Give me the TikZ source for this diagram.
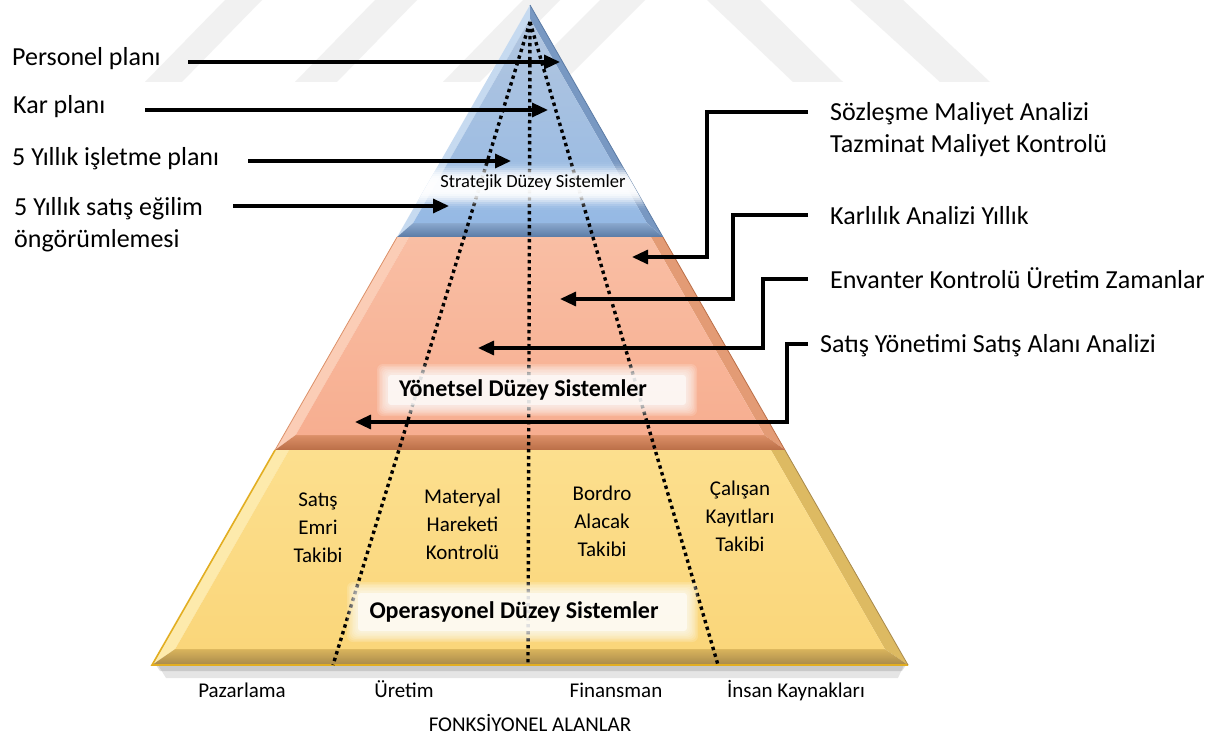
\documentclass[tikz,border=0pt]{standalone}
\usepackage{fontspec}
\setmainfont{Carlito}
\usetikzlibrary{arrows.meta}

% palette
\definecolor{wmark}{HTML}{F1F1F1}
\definecolor{bFaceT}{HTML}{B2C6DF}
\definecolor{bFaceB}{HTML}{95B9E4}
\definecolor{bLeft}{HTML}{C6DAF0}
\definecolor{bRight}{HTML}{7898C2}
\definecolor{bBevT}{HTML}{8AA8CE}
\definecolor{bBevB}{HTML}{5B7BA5}
\definecolor{oFaceT}{HTML}{F9BEA4}
\definecolor{oFaceB}{HTML}{F7AE90}
\definecolor{oLeft}{HTML}{FBCDB6}
\definecolor{oRight}{HTML}{E39B75}
\definecolor{oBevT}{HTML}{DC9068}
\definecolor{oBevB}{HTML}{BA6E47}
\definecolor{yFaceT}{HTML}{FCDF8E}
\definecolor{yFaceB}{HTML}{FAD67A}
\definecolor{yLeft}{HTML}{FDEAAC}
\definecolor{yRight}{HTML}{DDBA62}
\definecolor{yBevT}{HTML}{D9B45C}
\definecolor{yBevB}{HTML}{A8894B}
\definecolor{yEdge}{HTML}{E2AE22}

\tikzset{
  lbl/.style={font=\fontsize{26}{32}\selectfont, inner sep=0pt, align=left},
  lvlname/.style={font=\bfseries\fontsize{24}{28}\selectfont, inner sep=0pt},
  toplvl/.style={font=\fontsize{18.5}{22}\selectfont, inner sep=0pt},
  cell/.style={font=\fontsize{21}{28}\selectfont, inner sep=0pt, align=center},
  area/.style={font=\fontsize{21}{25}\selectfont, inner sep=0pt},
  callout/.style={line width=3.2pt, -{Triangle[length=16pt,width=14pt]}},
  divider/.style={line width=3.4pt, dash pattern=on 3.4pt off 3.6pt},
  stripe/.style={fill=wmark, draw=none},
  glow/.style={fill=white, opacity=0.16, rounded corners=6pt},
}

\begin{document}
\begin{tikzpicture}[x=1pt,y=-1pt]
\useasboundingbox (0,0) rectangle (1230,738);
\fill[white] (0,0) rectangle (1230,738);

% faint watermark stripes along the top
\fill[stripe] (145,82) -- (182,82) -- (262,0) -- (225,0) -- cycle;
\fill[stripe] (295,82) -- (337,82) -- (417,0) -- (375,0) -- cycle;
\fill[stripe] (443,82) -- (480,82) -- (560,0) -- (523,0) -- cycle;
\fill[stripe] (518,82) -- (563,82) -- (645,0) -- (600,0) -- cycle;
\fill[stripe] (707,0) -- (760,0) -- (843,82) -- (793,82) -- cycle;
\fill[stripe] (850,0) -- (903,0) -- (990,82) -- (940,82) -- cycle;

% shadow under the base
\fill[black,opacity=0.10] (158,665) -- (904,665) -- (898,678) -- (166,678) -- cycle;
\fill[black,opacity=0.12] (156,665) -- (906,665) -- (902,671) -- (160,671) -- cycle;

% ---- top layer: strategic (blue)
\fill[bLeft]  (530,5) -- (530,19) -- (413.2,223) -- (397.1,237) -- cycle;
\fill[bRight] (530,5) -- (530,19) -- (646.8,223) -- (662.9,237) -- cycle;
\shade[top color=bBevT,bottom color=bBevB] (397.1,237) -- (413.2,223) -- (646.8,223) -- (662.9,237) -- cycle;
\shade[top color=bFaceT,bottom color=bFaceB] (530,19) -- (646.8,223) -- (413.2,223) -- cycle;
\draw[bBevB,line width=0.8pt] (530,5) -- (662.9,237);

% ---- middle layer: managerial (orange)
\fill[oLeft]  (397.1,237) -- (409.1,237) -- (295.7,435) -- (275.1,450) -- cycle;
\fill[oRight] (662.9,237) -- (650.9,237) -- (764.3,435) -- (784.9,450) -- cycle;
\shade[top color=oBevT,bottom color=oBevB] (275.1,450) -- (295.7,435) -- (764.3,435) -- (784.9,450) -- cycle;
\shade[top color=oFaceT,bottom color=oFaceB] (409.1,237) -- (650.9,237) -- (764.3,435) -- (295.7,435) -- cycle;
\draw[oBevT,line width=0.8pt] (397.1,237) -- (275.1,450);
\draw[oBevB,line width=0.8pt] (662.9,237) -- (784.9,450);

% ---- bottom layer: operational (yellow)
\fill[yLeft]  (275.1,450) -- (289.1,450) -- (175.2,649) -- (152,665) -- cycle;
\fill[yRight] (784.9,450) -- (770.9,450) -- (884.8,649) -- (908,665) -- cycle;
\shade[top color=yBevT,bottom color=yBevB] (152,665) -- (175.2,649) -- (884.8,649) -- (908,665) -- cycle;
\shade[top color=yFaceT,bottom color=yFaceB] (289.1,450) -- (770.9,450) -- (884.8,649) -- (175.2,649) -- cycle;
\draw[yEdge,line width=1.6pt] (275.1,450) -- (152,665) -- (908,665);
\draw[yBevB,line width=0.8pt] (784.9,450) -- (908,665);

% functional area dividers
\coordinate (top) at (530,22);
\coordinate (d1) at (333,665);
\coordinate (d2) at (528,665);
\coordinate (d3) at (718,665);
\draw[divider] (top) -- (d1);
\draw[divider] (top) -- (d2);
\draw[divider] (top) -- (d3);

% soft white band across the top layer, built from thin strips
\begin{scope}
  \clip (530,5) -- (662.9,237) -- (397.1,237) -- cycle;
  \foreach \yy in {156,158,...,214} {
    \pgfmathsetmacro\op{0.97*exp(-((\yy+1-186)/17)^4)}
    \fill[white,opacity=\op] (380,\yy) rectangle (680,\yy+2.3);
  }
\end{scope}
% soft white boxes behind the lower level names
\foreach \g in {0,1.5,...,9} {
  \fill[glow] (386-\g,373-\g) rectangle (688+\g,407+\g);
  \fill[glow] (356-\g,591-\g) rectangle (689+\g,633+\g);
}
\fill[white,opacity=0.6,rounded corners=3pt] (388,375) rectangle (686,405);
\fill[white,opacity=0.6,rounded corners=3pt] (358,593) rectangle (687,631);

% level names
\node[toplvl] (lvs) at (533,183) {Stratejik Düzey Sistemler};
\node[lvlname] (lvm) at (523,390) {Yönetsel Düzey Sistemler};
\node[lvlname] (lvo) at (514,612) {Operasyonel Düzey Sistemler};

% operational systems per functional area (anchored at the last baseline)
\node[cell,anchor=base] (c1) at (318,562)   {Satış\\Emri\\Takibi};
\node[cell,anchor=base] (c2) at (462.5,559) {Materyal\\Hareketi\\Kontrolü};
\node[cell,anchor=base] (c3) at (602,556)   {Bordro\\Alacak\\Takibi};
\node[cell,anchor=base] (c4) at (740,551)   {Çalışan\\Kayıtları\\Takibi};

% functional areas
\node[area,anchor=base] (a1) at (242,697) {Pazarlama};
\node[area,anchor=base] (a2) at (404,697) {Üretim};
\node[area,anchor=base] (a3) at (616,697) {Finansman};
\node[area,anchor=base] (a4) at (796,697) {İnsan Kaynakları};
\node[area,anchor=base] (fa) at (530,731) {FONKSİYONEL ALANLAR};

% strategic plans (left)
\node[lbl,anchor=base west] (p1) at (12,66)  {Personel planı};
\node[lbl,anchor=base west] (p2) at (13,114) {Kar planı};
\node[lbl,anchor=base west] (p3) at (12,165) {5 Yıllık işletme planı};
\node[lbl,anchor=base west] (p4) at (14,247) {5 Yıllık satış eğilim\\öngörümlemesi};

\coordinate (p1s) at (188,62);  \coordinate (p1t) at (560,62);
\coordinate (p2s) at (145,110); \coordinate (p2t) at (548,110);
\coordinate (p3s) at (248,161); \coordinate (p3t) at (511,161);
\coordinate (p4s) at (233,206); \coordinate (p4t) at (449,206);
\draw[callout] (p1s) -- (p1t);
\draw[callout] (p2s) -- (p2t);
\draw[callout] (p3s) -- (p3t);
\draw[callout] (p4s) -- (p4t);

% managerial analyses (right)
\node[lbl,anchor=base west] (m1) at (830,153) {Sözleşme Maliyet Analizi\\Tazminat Maliyet Kontrolü};
\node[lbl,anchor=base west] (m2) at (830,224) {Karlılık Analizi Yıllık};
\node[lbl,anchor=base west] (m3) at (830,288) {Envanter Kontrolü Üretim Zamanlar};
\node[lbl,anchor=base west] (m4) at (820,352) {Satış Yönetimi Satış Alanı Analizi};

\coordinate (m1s) at (808,112); \coordinate (m1k) at (707,257); \coordinate (m1t) at (632,257);
\coordinate (m2s) at (808,215); \coordinate (m2k) at (733,299); \coordinate (m2t) at (560,299);
\coordinate (m3s) at (808,279); \coordinate (m3k) at (763,348); \coordinate (m3t) at (478,348);
\coordinate (m4s) at (808,344); \coordinate (m4k) at (787,422); \coordinate (m4t) at (355,422);
\draw[callout] (m1s) -| (m1k) -- (m1t);
\draw[callout] (m2s) -| (m2k) -- (m2t);
\draw[callout] (m3s) -| (m3k) -- (m3t);
\draw[callout] (m4s) -| (m4k) -- (m4t);
\end{tikzpicture}
\end{document}
